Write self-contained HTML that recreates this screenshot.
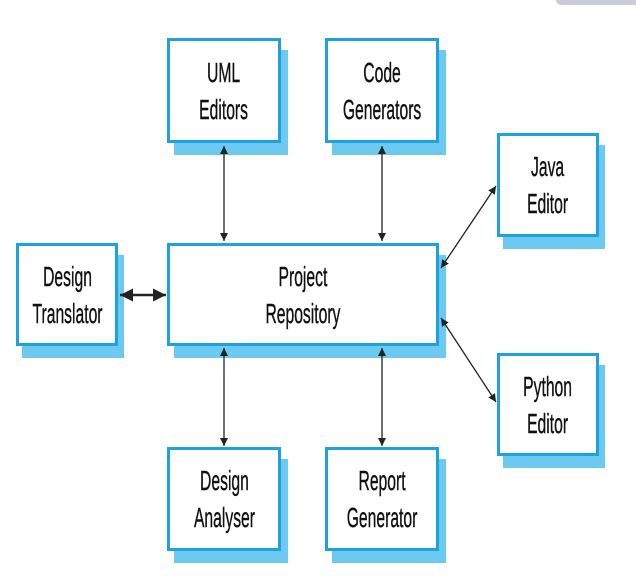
<!DOCTYPE html>
<html><head><meta charset="utf-8"><style>
html,body{margin:0;padding:0;background:#fff;}
body{width:636px;height:582px;position:relative;overflow:hidden;}
.sh{position:absolute;background:#6ccaf0;}
.b{position:absolute;box-sizing:border-box;border:3px solid #1da1e0;background:#fff;display:flex;align-items:center;justify-content:center;}
.t{font-family:"Liberation Sans",sans-serif;font-size:28px;line-height:37px;color:#111;-webkit-text-stroke:0.4px #111;text-align:center;transform:scaleX(0.56);white-space:nowrap;}
svg{position:absolute;left:0;top:0;}
</style></head><body>
<div style="position:absolute;left:556px;top:0;width:80px;height:5px;background:#c9cbdb;border-radius:0 0 0 6px;"></div>

<div class="sh" style="left:174px;top:50px;width:114px;height:105px"></div>
<div class="b" style="left:167px;top:38px;width:114px;height:105px"><div class="t">UML<br>Editors</div></div>

<div class="sh" style="left:332px;top:50px;width:114px;height:105px"></div>
<div class="b" style="left:325px;top:38px;width:114px;height:105px"><div class="t">Code<br>Generators</div></div>

<div class="sh" style="left:503px;top:145px;width:102px;height:104px"></div>
<div class="b" style="left:497px;top:133px;width:102px;height:104px"><div class="t">Java<br>Editor</div></div>

<div class="sh" style="left:22px;top:255px;width:102px;height:103px"></div>
<div class="b" style="left:16px;top:243px;width:102px;height:103px"><div class="t">Design<br>Translator</div></div>

<div class="sh" style="left:174px;top:255px;width:272px;height:103px"></div>
<div class="b" style="left:167px;top:243px;width:272px;height:103px"><div class="t">Project<br>Repository</div></div>

<div class="sh" style="left:503px;top:365px;width:102px;height:103px"></div>
<div class="b" style="left:497px;top:353px;width:102px;height:103px"><div class="t">Python<br>Editor</div></div>

<div class="sh" style="left:174px;top:459px;width:114px;height:104px"></div>
<div class="b" style="left:167px;top:447px;width:114px;height:104px"><div class="t">Design<br>Analyser</div></div>

<div class="sh" style="left:332px;top:459px;width:114px;height:104px"></div>
<div class="b" style="left:325px;top:447px;width:114px;height:104px"><div class="t">Report<br>Generator</div></div>

<svg width="636" height="582" viewBox="0 0 636 582">
<defs>
<marker id="a" viewBox="0 0 10 10" refX="10" refY="5" markerWidth="8" markerHeight="8" markerUnits="userSpaceOnUse" orient="auto-start-reverse">
<path d="M0,0 L10,5 L0,10 z" fill="#222"/></marker>
<marker id="a2" viewBox="0 0 10 10" refX="10" refY="5" markerWidth="5" markerHeight="5" orient="auto-start-reverse">
<path d="M0,0 L10,5 L0,10 z" fill="#222"/></marker>
</defs>
<g stroke="#222" stroke-width="1.3" fill="none">
<line x1="224" y1="146" x2="224" y2="241" marker-start="url(#a)" marker-end="url(#a)"/>
<line x1="382" y1="146" x2="382" y2="241" marker-start="url(#a)" marker-end="url(#a)"/>
<line x1="224" y1="348" x2="224" y2="446" marker-start="url(#a)" marker-end="url(#a)"/>
<line x1="382" y1="348" x2="382" y2="446" marker-start="url(#a)" marker-end="url(#a)"/>
<line x1="441" y1="268" x2="496" y2="186" marker-start="url(#a)" marker-end="url(#a)"/>
<line x1="441" y1="318" x2="496" y2="402" marker-start="url(#a)" marker-end="url(#a)"/>
<line x1="120" y1="295" x2="166" y2="295" stroke-width="2.6" marker-start="url(#a2)" marker-end="url(#a2)"/>
</g>
</svg>
</body></html>
